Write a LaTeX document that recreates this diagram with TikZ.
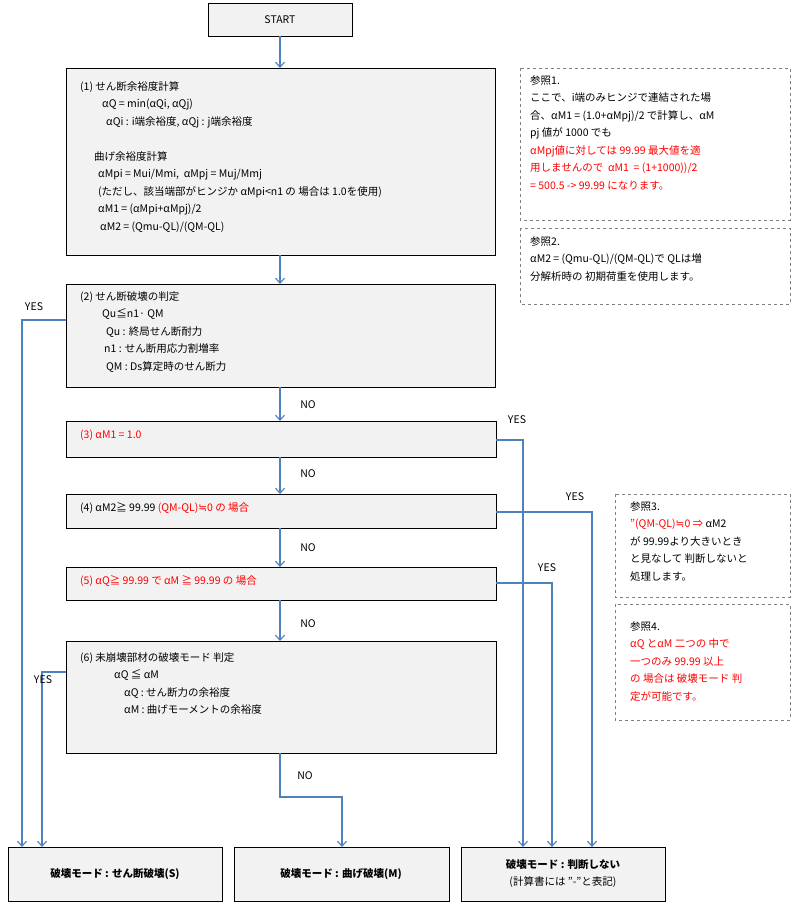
\documentclass[tikz,border=0pt]{standalone}
\usepackage{fontspec}
\setmainfont{Noto Sans CJK JP}
\newfontfamily\djv{DejaVu Sans}
\newcommand{\approxeq}{{\djv ≒}}
\usetikzlibrary{arrows.meta}
\definecolor{arr}{HTML}{4F81BD}
\definecolor{fillg}{HTML}{F2F2F2}
\definecolor{rd}{HTML}{FF0000}
\tikzset{
 box/.style={draw=black,fill=fillg,line width=0.6pt},
 note/.style={draw=gray,dashed,line width=0.5pt},
 txt/.style={anchor=north west,align=left,inner sep=0pt,font=\fontsize{10.5}{17.5}\selectfont},
 conn/.style={draw=arr,line width=1.1pt,-{Straight Barb[length=5pt,width=9pt]}},
 lbl/.style={font=\fontsize{10.5}{12}\selectfont,inner sep=1pt}
}
\begin{document}
\begin{tikzpicture}[x=1pt,y=-1pt]
\useasboundingbox (0,0) rectangle (792,911);
% boxes
\draw[box] (208,3) rectangle (352,36); \node[lbl] (start) at (280,19.5) {START};
\coordinate (s0) at (280,36);
\draw[box] (66,68) rectangle (495,255);
\node[txt] (t1) at (80,81) {(1) せん断余裕度計算\\
\hspace{22pt}αQ = min(αQi, αQj)\\
\hspace{26pt}αQi : i端余裕度, αQj : j端余裕度\\[17.5pt]
\hspace{14pt}曲げ余裕度計算\\
\hspace{18pt}αMpi = Mui/Mmi,\ \ αMpj = Muj/Mmj\\
\hspace{18pt}(ただし、該当端部がヒンジか αMpi<n1 の 場合は 1.0を使用)\\
\hspace{18pt}αM1 = (αMpi+αMpj)/2\\
\hspace{20pt}αM2 = (Qmu-QL)/(QM-QL)};
\draw[box] (66,284) rectangle (495,387);
\node[txt] (t2) at (80,291) {(2) せん断破壊の判定\\
\hspace{22pt}Qu≦n1· QM\\
\hspace{26pt}Qu : 終局せん断耐力\\
\hspace{24pt}n1 : せん断用応力割増率\\
\hspace{26pt}QM : Ds算定時のせん断力};
\draw[box] (66,421) rectangle (496,457);
\node[txt,text=rd] (t3) at (80,430) {(3) αM1 = 1.0};
\draw[box] (66,494) rectangle (496,528);
\node[txt] (t4) at (80,502) {(4) αM2≧ 99.99 \textcolor{rd}{(QM-QL)\approxeq0 の 場合}};
\draw[box] (66,567) rectangle (496,600);
\node[txt,text=rd] (t5) at (80,575) {(5) αQ≧ 99.99 で αM ≧ 99.99 の 場合};
\draw[box] (66,641) rectangle (496,753);
\node[txt] (t6) at (80,652) {(6) 未崩壊部材の破壊モード 判定\\
\hspace{34pt}αQ ≦ αM\\
\hspace{44pt}αQ : せん断力の余裕度\\
\hspace{44pt}αM : 曲げモーメントの余裕度};
\draw[box] (8,847) rectangle (222,901);
\node[lbl,font=\bfseries\fontsize{10.5}{12}\selectfont] (rS) at (115,874) {破壊モード : せん断破壊(S)};
\draw[box] (234,847) rectangle (449,901);
\node[lbl,font=\bfseries\fontsize{10.5}{12}\selectfont] (rM) at (341,874) {破壊モード : 曲げ破壊(M)};
\draw[box] (461,847) rectangle (665,901);
\node[lbl,align=center,font=\fontsize{10.5}{17}\selectfont] (rN) at (563,874) {\textbf{破壊モード : 判断しない}\\(計算書には "-"と表記)};
% notes
\draw[note] (520,68) rectangle (790,220);
\node[txt] (n1) at (530,75) {参照1.\\ここで、i端のみヒンジで連結された場\\合、αM1 = (1.0+αMpj)/2 で計算し、αM\\pj 値が 1000 でも\\
\textcolor{rd}{αMpj値に対しては 99.99 最大値を適}\\\textcolor{rd}{用しませんので\ \ αM1\ \ = (1+1000))/2}\\\textcolor{rd}{= 500.5 -> 99.99 になります。}};
\draw[note] (520,228) rectangle (790,304);
\node[txt] (n2) at (530,236) {参照2.\\αM2 = (Qmu-QL)/(QM-QL)で QLは増\\分解析時の 初期荷重を使用します。};
\draw[note] (615,494) rectangle (790,597);
\node[txt] (n3) at (630,501) {参照3.\\\textcolor{rd}{"(QM-QL)\approxeq0 ⇒} αM2\\が 99.99より大きいとき\\と見なして 判断しないと\\処理します。};
\draw[note] (615,604) rectangle (790,720);
\node[txt,text=rd] (n4) at (630,621) {\textcolor{black}{参照4.}\\αQ とαM 二つの 中で\\一つのみ 99.99 以上\\の 場合は 破壊モード 判\\定が可能です。};
% connectors
\coordinate (b1t) at (280,68); \coordinate (b1b) at (280,255);
\coordinate (b2t) at (280,284); \coordinate (b2b) at (280,387);
\coordinate (b3t) at (280,421); \coordinate (b3b) at (280,457);
\coordinate (b4t) at (280,494); \coordinate (b4b) at (280,528);
\coordinate (b5t) at (280,567); \coordinate (b5b) at (280,600);
\coordinate (b6t) at (280,641); \coordinate (b6b) at (280,753);
\draw[conn] (s0) -- (b1t);
\draw[conn] (b1b) -- (b2t);
\draw[conn] (b2b) -- (b3t);
\draw[conn] (b3b) -- (b4t);
\draw[conn] (b4b) -- (b5t);
\draw[conn] (b5b) -- (b6t);
\draw[conn] (b6b) -- (280,797) -- (342,797) -- (342,847);
\draw[conn] (66,320) -- (22,320) -- (22,847);
\draw[conn] (66,672) -- (42,672) -- (42,847);
\draw[conn] (496,440) -- (523,440) -- (523,847);
\draw[conn] (496,512) -- (592,512) -- (592,847);
\draw[conn] (496,583) -- (552,583) -- (552,847);
% labels
\node[lbl] (l1) at (308,405) {NO};
\node[lbl] (l2) at (308,474) {NO};
\node[lbl] (l3) at (308,548) {NO};
\node[lbl] (l4) at (308,624) {NO};
\node[lbl] (l5) at (305,776) {NO};
\node[lbl] (y1) at (34,307) {YES};
\node[lbl] (y2) at (43,680) {YES};
\node[lbl] (y3) at (517,420) {YES};
\node[lbl] (y4) at (575,497) {YES};
\node[lbl] (y5) at (547,568) {YES};
\end{tikzpicture}
\end{document}
